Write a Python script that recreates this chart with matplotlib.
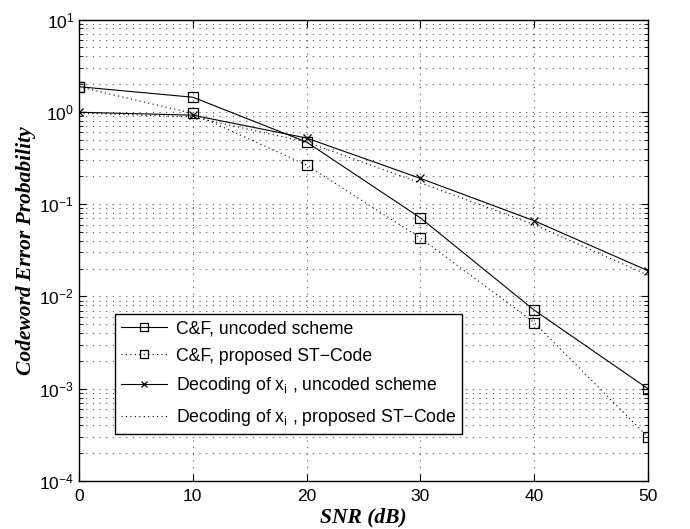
import numpy as np
import matplotlib
matplotlib.use("Agg")
import matplotlib.pyplot as plt
from matplotlib.ticker import LogLocator, NullFormatter, FixedLocator

# values
snr = [0, 10, 20, 30, 40, 50]
cf_uncoded = [1.87, 1.44, 0.47, 0.071, 0.0071, 0.001]
cf_stcode = [1.87, 0.96, 0.265, 0.043, 0.0052, 0.0003]
dec_uncoded = [0.99, 0.92, 0.52, 0.19, 0.066, 0.019]
dec_stcode = [0.97, 0.88, 0.47, 0.17, 0.06, 0.017]

labels = ["C&F, uncoded scheme",
          "C&F, proposed ST\u2212Code",
          "Decoding of x$_{\\mathrm{i}}$ , uncoded scheme",
          "Decoding of x$_{\\mathrm{i}}$ , proposed ST\u2212Code"]

plt.rcParams["font.family"] = ["Liberation Sans", "DejaVu Sans"]
plt.rcParams["mathtext.fontset"] = "custom"
plt.rcParams["mathtext.rm"] = "Liberation Sans"
plt.rcParams["mathtext.it"] = "Liberation Sans:italic"

fig = plt.figure(figsize=(6.9, 5.29), dpi=100)
ax = fig.add_axes([0.1145, 0.0907, 0.8246, 0.8724])

ax.semilogy(snr, cf_uncoded, color="black", lw=0.8, ls="-", marker="s",
            ms=7.5, mfc="none", mec="black", mew=0.9, label=labels[0])
ax.semilogy(snr, cf_stcode, color="black", lw=0.8, ls=(0, (1, 3)), marker="s",
            ms=6.5, mfc="none", mec="black", mew=0.9, label=labels[1])
ax.semilogy(snr, dec_uncoded, color="black", lw=0.8, ls="-", marker="x",
            ms=6, mec="black", mew=0.9, label=labels[2])
ax.semilogy(snr, dec_stcode, color="black", lw=0.8, ls=(0, (1, 3)),
            label=labels[3])

ax.set_xlim(0, 50)
ax.set_ylim(1e-4, 1e1)
ax.xaxis.set_major_locator(FixedLocator(snr))
ax.yaxis.set_major_locator(LogLocator(base=10, numticks=10))
ax.yaxis.set_minor_locator(LogLocator(base=10, subs=np.arange(2, 10), numticks=20))
ax.yaxis.set_minor_formatter(NullFormatter())

grid_style = dict(ls=(0, (1, 5)), lw=0.8, color="#555555")
ax.grid(True, which="major", **grid_style)
ax.grid(True, which="minor", axis="y", **grid_style)
ax.tick_params(which="both", direction="in", top=True, right=True,
               labelsize=12.5)
ax.tick_params(axis="x", pad=6)
ax.tick_params(which="major", length=5)
ax.tick_params(which="minor", length=3)
for s in ax.spines.values():
    s.set_linewidth(1.0)

ax.set_xlabel("SNR (dB)", family="Liberation Serif", style="italic",
              weight="bold", fontsize=15.5, labelpad=2)
ax.set_ylabel("Codeword Error Probability", family="Liberation Serif",
              style="italic", weight="bold", fontsize=15.5, labelpad=2)

leg = ax.legend(loc="lower left", bbox_to_anchor=(0.063, 0.102),
                fontsize=12.7, frameon=True, fancybox=False, framealpha=1,
                edgecolor="black", borderaxespad=0, handlelength=2.6,
                labelspacing=0.6, borderpad=0.35, handletextpad=0.5,
                numpoints=1, markerscale=0.8)
leg.get_frame().set_linewidth(1.0)

fig.savefig("out.png", dpi=100)
